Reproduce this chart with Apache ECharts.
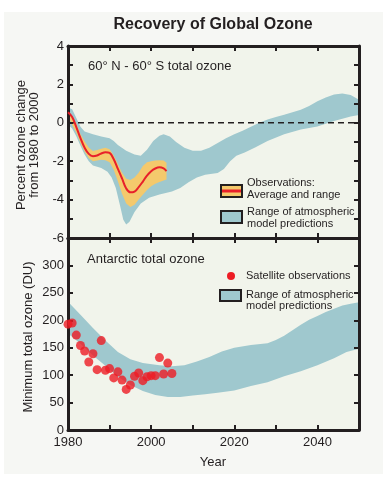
<!DOCTYPE html>
<html><head><meta charset="utf-8">
<script src="https://cdn.jsdelivr.net/npm/echarts/dist/echarts.min.js"></script>
<style>
html,body{margin:0;padding:0;background:#ffffff;}
#panel{position:absolute;left:4px;top:12px;width:379px;height:462px;background:#f6f7f4;}
#c{position:absolute;left:0;top:0;width:383px;height:488px;}
</style>
</head><body><div id="panel"></div><div id="c"></div>
<script>
// ---------- Top panel: 60N-60S total ozone (% change) ----------
const modelUpYearsTop = [1980,1981,1982,1983,1984,1986,1988,1990,1991,1992,1994,1996,1997.5,1999,2000.5,2002,2003,2004.5,2006,2008,2010,2012,2014,2016,2018,2020,2022,2024,2026,2028,2030,2032,2034,2036,2038,2040,2042,2044,2046,2048,2050];
const modelUpTop = [0.8,0.7,0.25,-0.2,-0.45,-0.6,-0.72,-0.8,-0.95,-1.15,-1.45,-1.65,-1.72,-1.4,-0.95,-0.68,-0.6,-0.72,-1.0,-1.3,-1.45,-1.45,-1.3,-1.05,-0.8,-0.6,-0.42,-0.2,0.0,0.17,0.3,0.42,0.55,0.68,0.88,1.12,1.32,1.47,1.53,1.45,1.2];
const modelLoYearsTop = [1980,1981,1982,1983,1984,1985,1986,1988,1989.5,1990.5,1991.5,1992.5,1993.3,1994,1994.8,1996,1997.5,1999.5,2002,2005,2007,2009,2011,2013,2016,2017.5,2019,2020.5,2022.5,2025,2028,2032,2036,2040,2044,2048,2050];
const modelLoTop = [-0.1,-0.3,-0.7,-1.2,-1.65,-2.0,-2.22,-2.35,-2.55,-2.85,-3.4,-4.3,-5.05,-5.3,-5.15,-4.65,-4.2,-3.9,-3.73,-3.58,-3.4,-3.1,-2.85,-2.7,-2.62,-2.4,-2.0,-1.72,-1.55,-1.28,-0.95,-0.6,-0.35,-0.19,0.1,0.33,0.41];

const obsYears = [1980,1981,1982,1983,1984,1985,1986,1987,1988,1989,1990,1991,1992,1993,1994,1995,1996,1997,1998,1999,2000,2001,2002,2003,2003.7];
const obsUpper = [0.62,0.35,-0.05,-0.6,-0.98,-1.3,-1.47,-1.42,-1.35,-1.3,-1.38,-1.7,-2.15,-2.6,-2.92,-2.98,-2.85,-2.6,-2.25,-2.05,-2.0,-1.97,-1.95,-1.97,-2.08];
const obsLower = [0.4,-0.1,-0.5,-1.05,-1.5,-1.85,-2.0,-1.97,-1.92,-1.95,-2.05,-2.45,-3.05,-3.7,-4.2,-4.38,-4.27,-4.0,-3.75,-3.5,-3.3,-3.18,-3.08,-3.0,-2.95];
const obsAverage = [0.55,0.3,-0.22,-0.8,-1.3,-1.62,-1.74,-1.7,-1.6,-1.53,-1.57,-1.9,-2.4,-2.9,-3.42,-3.62,-3.58,-3.35,-3.06,-2.75,-2.52,-2.38,-2.32,-2.38,-2.52];
const zeroLine = [[1980,0],[2050,0]];

// ---------- Bottom panel: Antarctic minimum total ozone (DU) ----------
const modelUpYearsAnt = [1980,1983,1986,1989,1992,1995,1998,2002,2005,2008,2011,2014,2017,2020,2024,2028,2030,2032,2034,2036,2038,2040,2042,2044,2046,2048,2050];
const modelUpAnt = [234,210,186,163,142,129,122,118,116,118,125,133,143,150,155,158,164,172,182,192,201,208,215,221,227,230,233];
const modelLoYearsAnt = [1980,1983,1986,1989,1992,1995,1998,2001,2004,2007,2010,2013,2016,2020,2024,2028,2032,2036,2040,2044,2047,2050];
const modelLoAnt = [176,157,136,117,97,82,71,64,60,60,63,65,68,72,80,87,98,107,118,131,142,148];

const satYears = [1980,1981,1982,1983,1984,1985,1986,1987,1988,1989,1990,1991,1992,1993,1994,1995,1996,1997,1998,1999,2000,2001,2002,2003,2004,2005];
const satValues = [193,195,173,154,144,124,139,110,163,109,112,95,106,91,74,82,98,104,90,97,99,99,132,102,122,103];

// ---------- Axis ticks ----------
const yearMin = 1980, yearMax = 2050, yearStep = 10;
const topMin = -6, topMax = 4, topStep = 1;
const botMin = 0, botMax = 350, botStep = 50;

const C_TEAL = '#9fc8ce', C_ORANGE = '#f4c96c', C_RED = '#e8202a', C_INK = '#231f20';
const FONT = '"Liberation Sans", Arial, Helvetica, sans-serif';

function band(xi, yi, upY, up, loY, lo, color, z) {
  return {
    type: 'custom', xAxisIndex: xi, yAxisIndex: yi, z: z, silent: true, clip: true,
    data: [[upY[0], up[0]]],
    renderItem: function (params, api) {
      const pts = [];
      for (let i = 0; i < upY.length; i++) pts.push(api.coord([upY[i], up[i]]));
      for (let i = loY.length - 1; i >= 0; i--) pts.push(api.coord([loY[i], lo[i]]));
      return { type: 'polygon', shape: { points: pts }, style: { fill: color, stroke: null } };
    }
  };
}
function pair(xs, ys) { return xs.map((x, i) => [x, ys[i]]); }

const tick = { show: true, inside: true, length: 5, lineStyle: { color: C_INK, width: 2 } };
const line = { show: true, onZero: false, lineStyle: { color: C_INK, width: 3 } };
const lbl = { color: C_INK, fontSize: 13, fontFamily: FONT };

function xAx(gi, pos, labels) {
  return {
    type: 'value', gridIndex: gi, position: pos, min: yearMin, max: yearMax, interval: yearStep,
    axisLine: line, axisTick: tick, splitLine: { show: false }, z: 4,
    axisLabel: labels ? Object.assign({ margin: 6, formatter: v => (v % 20 === 0 && v < yearMax) ? String(v) : '' }, lbl) : { show: false }
  };
}
function yAx(gi, pos, mn, mx, st, fmt) {
  return {
    type: 'value', gridIndex: gi, position: pos, min: mn, max: mx, interval: st,
    axisLine: line, axisTick: tick, splitLine: { show: false }, z: 4,
    axisLabel: fmt ? Object.assign({ margin: 4, formatter: fmt, showMinLabel: true, showMaxLabel: true }, lbl) : { show: false }
  };
}

const chart = echarts.init(document.getElementById('c'), null, { renderer: 'canvas' });
chart.setOption({
  backgroundColor: 'transparent',
  animation: false,
  grid: [
    { left: 68, top: 46, width: 291, height: 192, show: true, backgroundColor: '#f1f4eb', borderWidth: 0 },
    { left: 68, top: 238, width: 291, height: 192, show: true, backgroundColor: '#f1f4eb', borderWidth: 0 }
  ],
  xAxis: [ xAx(0, 'bottom', false), xAx(0, 'top', false), xAx(1, 'bottom', true), xAx(1, 'top', false) ],
  yAxis: [
    yAx(0, 'left', topMin, topMax, topStep, v => (v % 2 === 0 ? String(v) : '')),
    yAx(0, 'right', topMin, topMax, topStep, null),
    yAx(1, 'left', botMin, botMax, botStep, v => (v < botMax ? String(v) : '')),
    yAx(1, 'right', botMin, botMax, botStep, null)
  ],
  series: [
    band(0, 0, modelUpYearsTop, modelUpTop, modelLoYearsTop, modelLoTop, C_TEAL, 1),
    band(0, 0, obsYears, obsUpper, obsYears, obsLower, C_ORANGE, 2),
    { type: 'line', xAxisIndex: 0, yAxisIndex: 0, data: zeroLine, z: 3, showSymbol: false, silent: true,
      lineStyle: { color: C_INK, width: 1.5, type: [6, 4] } },
    { type: 'line', xAxisIndex: 0, yAxisIndex: 0, data: pair(obsYears, obsAverage), z: 5, smooth: 0.4,
      showSymbol: false, silent: true, lineStyle: { color: C_RED, width: 2 } },
    band(2, 2, modelUpYearsAnt, modelUpAnt, modelLoYearsAnt, modelLoAnt, C_TEAL, 1),
    { type: 'scatter', xAxisIndex: 2, yAxisIndex: 2, data: pair(satYears, satValues), z: 6, symbolSize: 9,
      itemStyle: { color: '#ed1c24' }, silent: true }
  ],
  graphic: [
    { type: 'text', x: 213, y: 25, style: { text: 'Recovery of Global Ozone', fill: C_INK, font: 'bold 16px ' + FONT, textAlign: 'center', textVerticalAlign: 'middle' } },
    { type: 'text', x: 27.5, y: 145, rotation: Math.PI / 2, style: { text: 'Percent ozone change\nfrom 1980 to 2000', fill: C_INK, font: '13px ' + FONT, lineHeight: 13, textAlign: 'center', textVerticalAlign: 'middle' } },
    { type: 'text', x: 28, y: 337, rotation: Math.PI / 2, style: { text: 'Minimum total ozone (DU)', fill: C_INK, font: '13px ' + FONT, textAlign: 'center', textVerticalAlign: 'middle' } },
    { type: 'text', x: 213, y: 462, style: { text: 'Year', fill: C_INK, font: '13px ' + FONT, textAlign: 'center', textVerticalAlign: 'middle' } },
    { type: 'text', x: 88, y: 66, z: 10, style: { text: '60° N - 60° S total ozone', fill: C_INK, font: '13px ' + FONT, textVerticalAlign: 'middle' } },
    { type: 'text', x: 87, y: 259, z: 10, style: { text: 'Antarctic total ozone', fill: C_INK, font: '13px ' + FONT, textVerticalAlign: 'middle' } },
    // top legend
    { type: 'rect', z: 10, shape: { x: 221, y: 185, width: 21, height: 12 }, style: { fill: C_ORANGE, stroke: C_INK, lineWidth: 2 } },
    { type: 'rect', z: 11, shape: { x: 222, y: 189.5, width: 19, height: 3 }, style: { fill: C_RED } },
    { type: 'text', z: 10, x: 247, y: 189, style: { text: 'Observations:\nAverage and range', fill: C_INK, font: '11px ' + FONT, lineHeight: 11.5, textVerticalAlign: 'middle' } },
    { type: 'rect', z: 10, shape: { x: 221, y: 211, width: 21, height: 12 }, style: { fill: C_TEAL, stroke: C_INK, lineWidth: 2 } },
    { type: 'text', z: 10, x: 247, y: 218, style: { text: 'Range of atmospheric\nmodel predictions', fill: C_INK, font: '11px ' + FONT, lineHeight: 11.5, textVerticalAlign: 'middle' } },
    // bottom legend
    { type: 'circle', z: 10, shape: { cx: 231, cy: 276, r: 4 }, style: { fill: '#ed1c24' } },
    { type: 'text', z: 10, x: 246, y: 276, style: { text: 'Satellite observations', fill: C_INK, font: '11px ' + FONT, textVerticalAlign: 'middle' } },
    { type: 'rect', z: 10, shape: { x: 220, y: 290, width: 21, height: 11 }, style: { fill: C_TEAL, stroke: C_INK, lineWidth: 2 } },
    { type: 'text', z: 10, x: 246, y: 300.5, style: { text: 'Range of atmospheric\nmodel predictions', fill: C_INK, font: '11px ' + FONT, lineHeight: 11.5, textVerticalAlign: 'middle' } }
  ]
});
</script>
</body></html>
